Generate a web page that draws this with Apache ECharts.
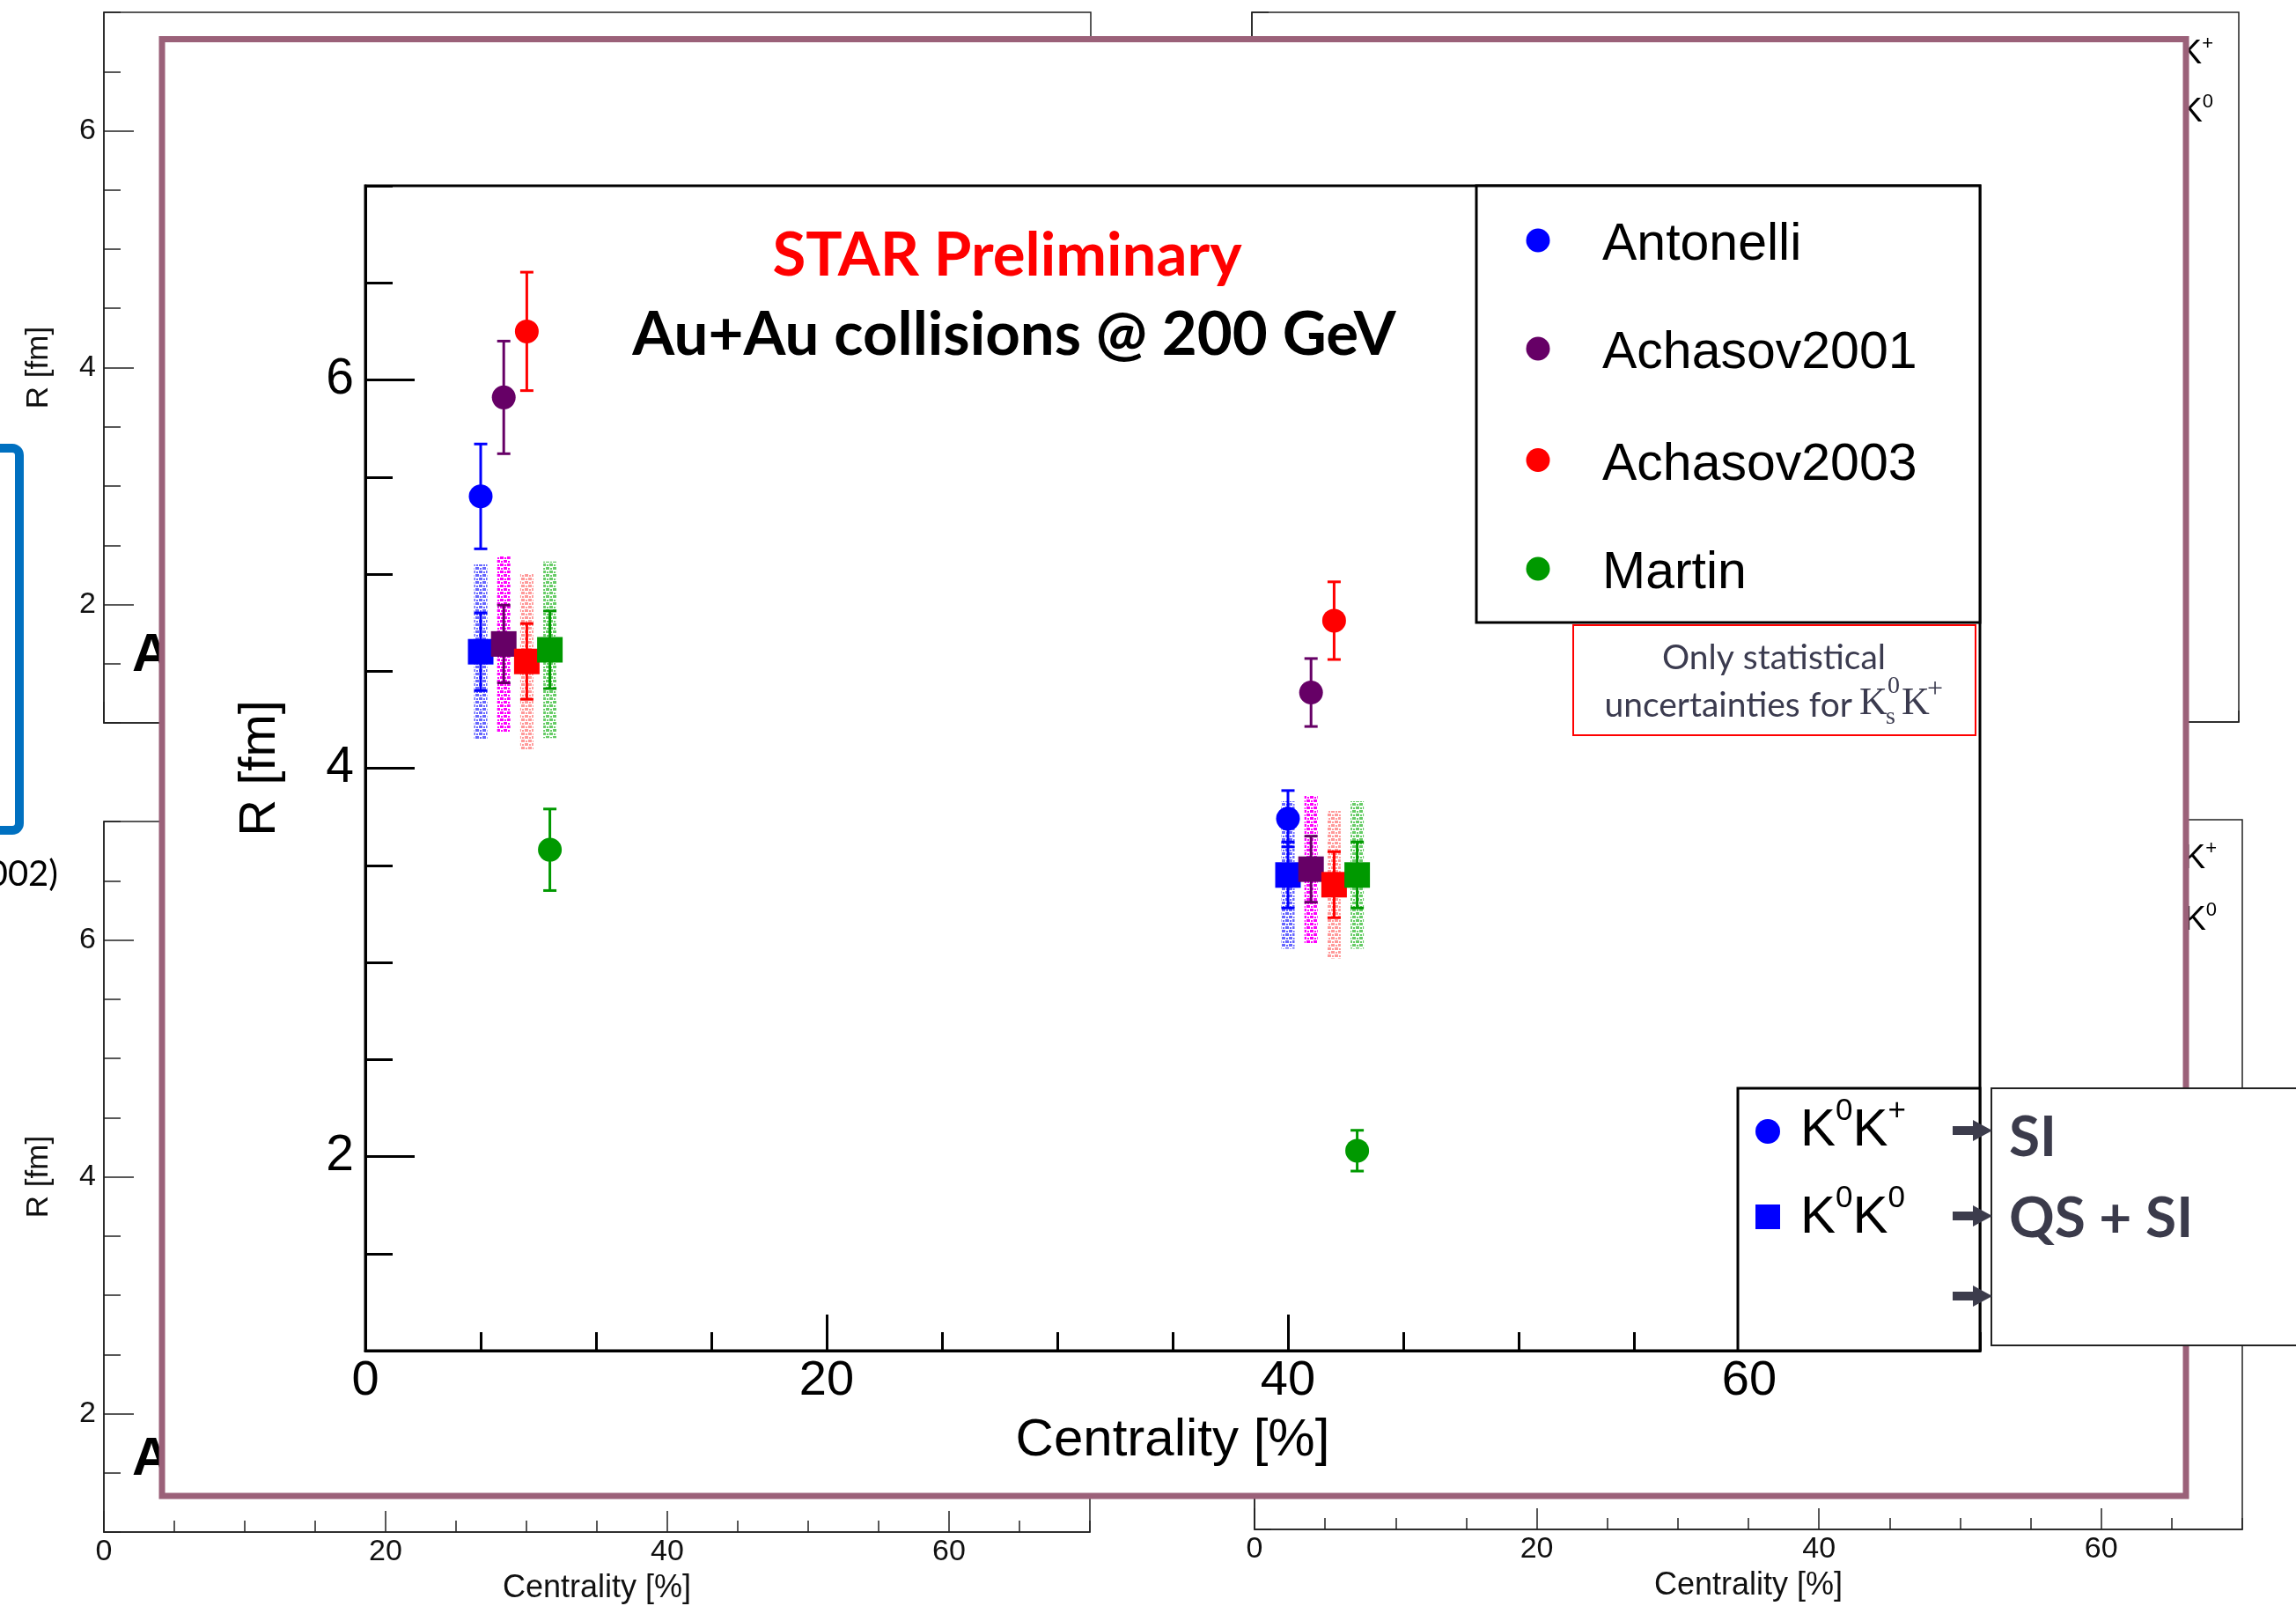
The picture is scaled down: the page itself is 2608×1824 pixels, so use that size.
<!DOCTYPE html>
<html><head><meta charset="utf-8">
<style>html,body{margin:0;padding:0;background:#fff}#c{width:2608px;height:1824px}</style>
<script src="https://cdn.jsdelivr.net/npm/echarts@6/dist/echarts.min.js"></script>
</head><body><div id="c"></div>
<script>
// ---------------- data ----------------
const models = ['Antonelli', 'Achasov2001', 'Achasov2003', 'Martin'];
const modelColors = ['#0000ff', '#660066', '#ff0000', '#009900'];
const sysColors = ['#6666ff', '#ff00ff', '#ff9999', '#66cc66'];

// centrality positions (slightly offset per model)
const xAntonelli = [5, 40];
const xAchasov2001 = [6, 41];
const xAchasov2003 = [7, 42];
const xMartin = [8, 43];

// K0K+ (circles): radius and statistical error
const rKKplusAntonelli = [5.40, 3.74];
const eKKplusAntonelli = [0.27, 0.145];
const rKKplusAchasov2001 = [5.91, 4.39];
const eKKplusAchasov2001 = [0.29, 0.175];
const rKKplusAchasov2003 = [6.25, 4.76];
const eKKplusAchasov2003 = [0.305, 0.20];
const rKKplusMartin = [3.58, 2.03];
const eKKplusMartin = [0.21, 0.105];

// K0K0 (squares): radius, statistical error, systematic error
const rK0K0Antonelli = [4.60, 3.45];
const sK0K0Antonelli = [0.20, 0.17];
const yK0K0Antonelli = [0.45, 0.38];
const rK0K0Achasov2001 = [4.64, 3.48];
const sK0K0Achasov2001 = [0.20, 0.17];
const yK0K0Achasov2001 = [0.455, 0.38];
const rK0K0Achasov2003 = [4.55, 3.40];
const sK0K0Achasov2003 = [0.195, 0.17];
const yK0K0Achasov2003 = [0.455, 0.38];
const rK0K0Martin = [4.61, 3.45];
const sK0K0Martin = [0.20, 0.17];
const yK0K0Martin = [0.455, 0.38];

// tick labels
const xMajorTicks = [0, 20, 40, 60];
const yMajorTicks = [2, 4, 6];

// --------------- build ---------------
const xs = [xAntonelli, xAchasov2001, xAchasov2003, xMartin];
const rKp = [rKKplusAntonelli, rKKplusAchasov2001, rKKplusAchasov2003, rKKplusMartin];
const eKp = [eKKplusAntonelli, eKKplusAchasov2001, eKKplusAchasov2003, eKKplusMartin];
const rK0 = [rK0K0Antonelli, rK0K0Achasov2001, rK0K0Achasov2003, rK0K0Martin];
const sK0 = [sK0K0Antonelli, sK0K0Achasov2001, sK0K0Achasov2003, sK0K0Martin];
const yK0 = [yK0K0Antonelli, yK0K0Achasov2001, yK0K0Achasov2003, yK0K0Martin];

function makePattern(color) {
  const c = document.createElement('canvas');
  c.width = 8; c.height = 8;
  const g = c.getContext('2d');
  g.fillStyle = color;
  g.fillRect(0, 0, 4, 3);
  g.fillRect(4, 4, 4, 3);
  g.fillRect(5, 1, 2, 2);
  g.fillRect(1, 5, 2, 2);
  return c;
}

const grids = [
  {left: 118, top: 14, width: 1121, height: 807},   // TL background
  {left: 118, top: 933, width: 1120, height: 807},  // BL background
  {left: 1422, top: 14, width: 1121, height: 806},  // TR background
  {left: 1425, top: 931, width: 1122, height: 806}, // BR background
  {left: 415, top: 211, width: 1834, height: 1323}  // main
];
const gridOpts = grids.map((g, i) => Object.assign({
  show: true,
  borderColor: i === 4 ? '#000' : '#222',
  borderWidth: i === 4 ? 3 : 1.5,
  backgroundColor: 'transparent',
  z: i === 4 ? 10 : 0
}, g));

const xAxes = [], yAxes = [];
function addAxes(gi, o) {
  const lc = o.lc, lw = o.lw;
  xAxes.push({gridIndex: gi, type: 'value', position: 'bottom', min: 0, max: 70, interval: 5, z: o.z,
    axisLine: {show: true, onZero: false, lineStyle: {color: lc, width: lw}},
    axisTick: {show: true, inside: true, length: o.xMinor, lineStyle: {color: lc, width: lw}},
    axisLabel: {show: false}, splitLine: {show: false}});
  xAxes.push({gridIndex: gi, type: 'value', position: 'bottom', min: 0, max: 70, interval: 5, z: o.z,
    axisLine: {show: false, onZero: false},
    axisTick: {show: true, inside: true, length: o.xMajor, customValues: xMajorTicks, lineStyle: {color: lc, width: lw}},
    axisLabel: {show: o.showX, customValues: xMajorTicks, fontSize: o.xls, fontFamily: 'Liberation Sans', color: o.tc, margin: o.xlm},
    name: o.showX ? 'Centrality [%]' : '', nameLocation: 'middle', nameGap: o.xng,
    nameTextStyle: {fontSize: o.xns, fontFamily: 'Liberation Sans', color: o.tc},
    splitLine: {show: false}});
  yAxes.push({gridIndex: gi, type: 'value', position: 'left', min: 1, max: 7, interval: 0.5, z: o.z,
    axisLine: {show: true, onZero: false, lineStyle: {color: lc, width: lw}},
    axisTick: {show: true, inside: true, length: o.yMinor, lineStyle: {color: lc, width: lw}},
    axisLabel: {show: false}, splitLine: {show: false}});
  yAxes.push({gridIndex: gi, type: 'value', position: 'left', min: 1, max: 7, interval: 0.5, z: o.z,
    axisLine: {show: false, onZero: false},
    axisTick: {show: true, inside: true, length: o.yMajor, customValues: yMajorTicks, lineStyle: {color: lc, width: lw}},
    axisLabel: {show: o.showY, customValues: yMajorTicks, fontSize: o.yls, fontFamily: 'Liberation Sans', color: o.tc, margin: o.ylm},
    name: o.showY ? 'R [fm]' : '', nameLocation: 'middle', nameGap: o.yng, nameRotate: 90,
    nameTextStyle: {fontSize: o.yns, fontFamily: 'Liberation Sans', color: o.tc},
    splitLine: {show: false}});
}
const bgBase = {lc: '#222', lw: 1.5, z: 0, xMinor: 13, xMajor: 24, yMinor: 19, yMajor: 34,
  xls: 34, xlm: 6, xng: 46, xns: 36, yls: 34, ylm: 9, yng: 56, yns: 35, tc: '#111'};
addAxes(0, Object.assign({}, bgBase, {showX: false, showY: true}));
addAxes(1, Object.assign({}, bgBase, {showX: true, showY: true}));
addAxes(2, Object.assign({}, bgBase, {showX: false, showY: true}));
addAxes(3, Object.assign({}, bgBase, {showX: true, showY: true}));
addAxes(4, {lc: '#000', lw: 3, z: 10, xMinor: 21, xMajor: 41, yMinor: 31, yMajor: 56,
  xls: 56, xlm: 7, xng: 72, xns: 60, yls: 57, ylm: 13, yng: 90, yns: 58, tc: '#000', showX: true, showY: true});

const MX = 8, MY = 8; // main axes indices

function errRender(color) {
  return function (params, api) {
    const x = api.value(0), y = api.value(1), e = api.value(2);
    const t = api.coord([x, y + e]), b = api.coord([x, y - e]);
    const cw = 7.5, st = {stroke: color, lineWidth: 3};
    return {type: 'group', children: [
      {type: 'line', shape: {x1: t[0], y1: t[1], x2: b[0], y2: b[1]}, style: st},
      {type: 'line', shape: {x1: t[0] - cw, y1: t[1], x2: t[0] + cw, y2: t[1]}, style: st},
      {type: 'line', shape: {x1: b[0] - cw, y1: b[1], x2: b[0] + cw, y2: b[1]}, style: st}
    ]};
  };
}
function sysRender(color) {
  const pat = makePattern(color);
  return function (params, api) {
    const x = api.value(0), y = api.value(1), e = api.value(2);
    const t = api.coord([x, y + e]), b = api.coord([x, y - e]);
    return {type: 'rect', shape: {x: t[0] - 7.5, y: t[1], width: 15, height: b[1] - t[1]},
      style: {fill: {image: pat, repeat: 'repeat'}}};
  };
}

const series = [];
models.forEach((m, i) => {
  series.push({type: 'custom', name: m + ' sys', xAxisIndex: MX, yAxisIndex: MY, z: 11, silent: true,
    renderItem: sysRender(sysColors[i]),
    data: xs[i].map((x, k) => [x, rK0[i][k], yK0[i][k]])});
});
models.forEach((m, i) => {
  series.push({type: 'custom', name: m + ' K0K0 stat', xAxisIndex: MX, yAxisIndex: MY, z: 12, silent: true,
    renderItem: errRender(modelColors[i]),
    data: xs[i].map((x, k) => [x, rK0[i][k], sK0[i][k]])});
  series.push({type: 'custom', name: m + ' K0K+ stat', xAxisIndex: MX, yAxisIndex: MY, z: 12, silent: true,
    renderItem: errRender(modelColors[i]),
    data: xs[i].map((x, k) => [x, rKp[i][k], eKp[i][k]])});
});
models.forEach((m, i) => {
  series.push({type: 'scatter', name: m, xAxisIndex: MX, yAxisIndex: MY, z: 13, silent: true,
    symbol: 'circle', symbolSize: 27, itemStyle: {color: modelColors[i], opacity: 1},
    data: xs[i].map((x, k) => [x, rKp[i][k]])});
  series.push({type: 'scatter', name: m + ' K0K0', xAxisIndex: MX, yAxisIndex: MY, z: 13, silent: true,
    symbol: 'rect', symbolSize: 29, itemStyle: {color: modelColors[i], opacity: 1},
    data: xs[i].map((x, k) => [x, rK0[i][k]])});
});

// ---------------- graphics ----------------
function txt(x, y, text, font, fill, align, va, z, extra) {
  return Object.assign({type: 'text', x: x, y: y, z: z, silent: true,
    style: {text: text, font: font, fill: fill, align: align, textAlign: align,
      verticalAlign: va, textVerticalAlign: va}}, extra || {});
}
function richKK(x, y, second, size, supSize, lh, z, align) {
  return {type: 'text', x: x, y: y, z: z, silent: true,
    style: {text: '{k|K}{s|0}{k|K}{s|' + second + '}', align: align, textAlign: align,
      verticalAlign: 'middle', textVerticalAlign: 'middle',
      rich: {
        k: {fontSize: size, fontFamily: 'Liberation Sans', fill: '#000', color: '#000', lineHeight: lh, verticalAlign: 'middle'},
        s: {fontSize: supSize, fontFamily: 'Liberation Sans', fill: '#000', color: '#000', lineHeight: supSize, verticalAlign: 'top'}
      }}};
}

const els = [];
// background slide pieces (under the panel)
els.push({type: 'rect', z: 1, silent: true, shape: {x: -100, y: 509, width: 122, height: 434, r: 8},
  style: {fill: 'none', stroke: '#0070c0', lineWidth: 10}});
els.push(txt(66, 993, '(2002)', '40px Lato', '#000', 'right', 'middle', 1));
els.push(txt(150, 745, 'Au+Au', 'bold 61px "Liberation Sans"', '#000', 'left', 'middle', 1));
els.push(txt(150, 1658, 'Au+Au', 'bold 61px "Liberation Sans"', '#000', 'left', 'middle', 1));
els.push(richKK(2514, 62, '+', 38, 22, 46, 1, 'right'));
els.push(richKK(2514, 128, '0', 38, 22, 46, 1, 'right'));
els.push(richKK(2518, 976, '+', 38, 22, 46, 1, 'right'));
els.push(richKK(2518, 1046, '0', 38, 22, 46, 1, 'right'));

// mauve framed white panel
els.push({type: 'rect', z: 5, silent: true, shape: {x: 184, y: 44.5, width: 2299, height: 1654.5},
  style: {fill: '#fff', stroke: '#9b6179', lineWidth: 7}});

// titles
els.push(txt(1144, 291, 'STAR Preliminary', 'bold 69px Lato', '#ff0000', 'center', 'middle', 20));
els.push(txt(1152, 381, 'Au+Au collisions @ 200 GeV', 'bold 69px Lato', '#000', 'center', 'middle', 20));

// model legend
els.push({type: 'rect', z: 20, silent: true, shape: {x: 1677, y: 211, width: 572, height: 496},
  style: {fill: '#fff', stroke: '#000', lineWidth: 3}});
const legY = [273, 396, 522.5, 646];
models.forEach((m, i) => {
  els.push({type: 'circle', z: 21, silent: true, shape: {cx: 1747, cy: legY[i], r: 13.5}, style: {fill: modelColors[i]}});
  els.push(txt(1820, legY[i] + 6, m, '59px "Liberation Sans"', '#000', 'left', 'middle', 21));
});

// note box
els.push({type: 'rect', z: 20, silent: true, shape: {x: 1787, y: 710, width: 457, height: 125},
  style: {fill: '#fff', stroke: '#ff0000', lineWidth: 2}});
els.push(txt(2015, 747, 'Only statistical', '39px Lato', '#3b3b4f', 'center', 'middle', 21));
els.push(txt(2104, 801, 'uncertainties for', '39px Lato', '#3b3b4f', 'right', 'middle', 21));
els.push(txt(2112, 799, 'K', '44px "Liberation Serif"', '#3b3b4f', 'left', 'middle', 21));
els.push(txt(2144, 780, '0', '28px "Liberation Serif"', '#3b3b4f', 'left', 'middle', 21));
els.push(txt(2142, 815, 's', '28px "Liberation Serif"', '#3b3b4f', 'left', 'middle', 21));
els.push(txt(2160, 799, 'K', '44px "Liberation Serif"', '#3b3b4f', 'left', 'middle', 21));
els.push(txt(2189, 784, '+', '32px "Liberation Serif"', '#3b3b4f', 'left', 'middle', 21));

// particle legend
els.push({type: 'rect', z: 20, silent: true, shape: {x: 1974, y: 1236, width: 275, height: 298},
  style: {fill: '#fff', stroke: '#000', lineWidth: 3}});
els.push({type: 'circle', z: 21, silent: true, shape: {cx: 2008, cy: 1285, r: 14}, style: {fill: '#0000ff'}});
els.push({type: 'rect', z: 21, silent: true, shape: {x: 1994, y: 1368, width: 28, height: 28}, style: {fill: '#0000ff'}});
els.push(richKK(2045, 1284, '+', 60, 35, 78, 21, 'left'));
els.push(richKK(2045, 1383, '0', 60, 35, 78, 21, 'left'));

// SI box
els.push({type: 'rect', z: 20, silent: true, shape: {x: 2262, y: 1236, width: 420, height: 292},
  style: {fill: '#fff', stroke: '#222', lineWidth: 2}});
els.push(txt(2282, 1292, 'SI', 'bold 64px Lato', '#3b3b4b', 'left', 'middle', 21));
els.push(txt(2282, 1384, 'QS + SI', 'bold 64px Lato', '#3b3b4b', 'left', 'middle', 21));
[1284, 1381, 1472].forEach(y => {
  els.push({type: 'polygon', z: 22, silent: true,
    shape: {points: [[2218, y - 5], [2241, y - 5], [2241, y - 12], [2263, y], [2241, y + 12], [2241, y + 5], [2218, y + 5]]},
    style: {fill: '#3c3c4c'}});
});

const option = {
  animation: false,
  backgroundColor: '#fff',
  grid: gridOpts,
  xAxis: xAxes,
  yAxis: yAxes,
  series: series,
  graphic: {elements: els}
};
const chart = echarts.init(document.getElementById('c'), null, {renderer: 'canvas', width: 2608, height: 1824});
chart.setOption(option);
</script>
</body></html>
